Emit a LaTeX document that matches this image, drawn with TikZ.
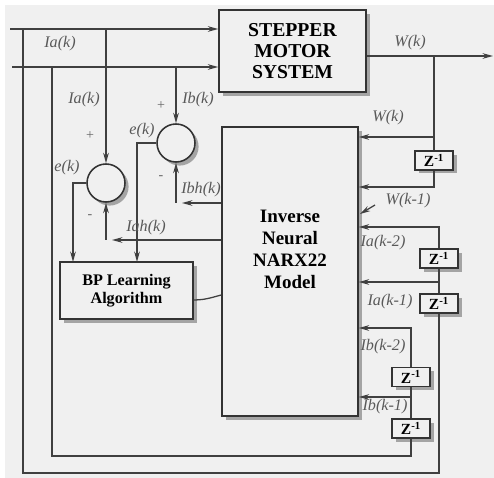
\documentclass[tikz,border=0pt]{standalone}
\usepackage{fontspec}
\setmainfont{Liberation Serif}
\usepackage{tikz}
\usetikzlibrary{arrows.meta, positioning, shadows}

\tikzset{
  wire/.style={draw=black!75, line width=0.9pt},
  arr/.style={wire, -{Stealth[length=2.6mm,width=1.4mm]}},
  boxshadow/.style={drop shadow={shadow xshift=0.9mm, shadow yshift=-0.9mm, fill=black!65}},
  block/.style={draw=black!80, line width=1.1pt, fill=black!6, align=center, inner sep=0pt, boxshadow},
  sumc/.style={circle, draw=black!80, line width=1.1pt, fill=black!6, minimum size=9.5mm, inner sep=0pt, boxshadow},
  zbox/.style={block, minimum width=9.5mm, minimum height=4.7mm, font=\bfseries\fontsize{11}{12}\selectfont},
  lab/.style={font=\itshape\fontsize{11.5}{12}\selectfont, text=black!65, inner sep=0pt},
  sig/.style={font=\fontsize{10}{10}\selectfont, text=black!60, inner sep=0pt}
}

\begin{document}
\begin{tikzpicture}[x=0.25mm, y=-0.25mm]
            \useasboundingbox (0,0) rectangle (494,478);
            \fill[black!6] (5,5) rectangle (494,478);
            % blocks
            \node[block, minimum width=36.75mm, minimum height=20.5mm, font=\bfseries\fontsize{14}{15}\selectfont](motor) at (292.5,51) {STEPPER\\MOTOR\\SYSTEM};
            \node[block, minimum width=34mm, minimum height=72.25mm](nn) at (290,271.5) {};
            \node[font=\bfseries\fontsize{13.5}{15.6}\selectfont, align=center](nntext) at (290,249) {Inverse\\Neural\\NARX22\\Model};
            \node[block, minimum width=33.25mm, minimum height=14.25mm, font=\bfseries\fontsize{11.5}{13}\selectfont](bp) at (126.5,290.5) {BP Learning\\Algorithm};
            \node[sumc](c1) at (106,183) {};
            \node[sumc](c2) at (176,143) {};
            \node[zbox](zw) at (434,160.5) {Z\textsuperscript{-1}};
            \node[zbox](za2) at (439,258.5) {Z\textsuperscript{-1}};
            \node[zbox](za1) at (439,303.5) {Z\textsuperscript{-1}};
            \node[zbox](zb2) at (411,377) {Z\textsuperscript{-1}};
            \node[zbox](zb1) at (411,428.5) {Z\textsuperscript{-1}};
            % points on the wires
            \coordinate (ina) at (10,29);
            \coordinate (inb) at (12,67);
            \coordinate (ja) at (23,29);
            \coordinate (jb) at (52,67);
            \coordinate (ba) at (23,473);
            \coordinate (bb) at (52,456);
            \coordinate (ta) at (106,29);
            \coordinate (tb) at (176,67);
            \coordinate (e1) at (73,262);
            \coordinate (e2) at (137,262);
            \coordinate (hb) at (200,203);
            \coordinate (ha) at (200,240);
            \coordinate (lr) at (200,295);
            \coordinate (wout) at (493,56);
            \coordinate (wj) at (434,56);
            \coordinate (w0) at (434,137);
            \coordinate (w1) at (434,187);
            \coordinate (a1) at (439,282);
            \coordinate (a2) at (439,227);
            \coordinate (b1) at (411,397);
            \coordinate (b2) at (411,328);
            \coordinate (sa) at (375,205);
            \coordinate (sb) at (360,214);
            % wires
            \draw[arr] (ina) -- (ina -| motor.west);
            \draw[arr] (inb) -- (inb -| motor.west);
            \draw[arr] (motor.east |- wout) -- (wout);
            \draw[wire] (wj) -- (zw);
            \draw[arr] (w0) -- (w0 -| nn.east);
            \draw[arr] (zw) |- (w1 -| nn.east);
            \draw[arr] (sa) -- (sb);
            \draw[arr] (ta) -- (c1);
            \draw[arr] (tb) -- (c2);
            \draw[arr] (c1) -| (e1);
            \draw[arr] (c2) -| (e2);
            \draw[arr] (nn.west |- hb) -- ([xshift=1.5mm]hb -| c2);
            \draw[arr] (hb -| c2) -- (c2);
            \draw[arr] (nn.west |- ha) -- ([xshift=1.5mm]ha -| c1);
            \draw[arr] (ha -| c1) -- (c1);
            \draw[wire] (bp.-8) to[out=0, in=195] (nn.west |- lr);
            \draw[wire] (ja) -- (ba) -| (za1);
            \draw[wire] (jb) -- (bb) -| (zb1);
            \draw[wire] (za1) -- (za2);
            \draw[arr] (a1) -- (a1 -| nn.east);
            \draw[arr] (za2) |- (a2 -| nn.east);
            \draw[wire] (zb1) -- (zb2);
            \draw[arr] (b1) -- (b1 -| nn.east);
            \draw[arr] (zb2) |- (b2 -| nn.east);
            % labels
            \node[lab](lia) at (60,44) {Ia(k)};
            \node[lab](lia2) at (84,100) {Ia(k)};
            \node[lab](lib) at (198,100) {Ib(k)};
            \node[sig](p1) at (90,136) {+};
            \node[sig](p2) at (161,106) {+};
            \node[sig](m1) at (90,217) {-};
            \node[sig](m2) at (161,178) {-};
            \node[lab](le2) at (142,131) {e(k)};
            \node[lab](le1) at (67,168) {e(k)};
            \node[lab](libh) at (201,190) {Ibh(k)};
            \node[lab](liah) at (146,228) {Iah(k)};
            \node[lab](lw) at (410,43) {W(k)};
            \node[lab](lw0) at (388,118) {W(k)};
            \node[lab](lw1) at (408,201) {W(k-1)};
            \node[lab](la2) at (383,243) {Ia(k-2)};
            \node[lab](la1) at (390,302) {Ia(k-1)};
            \node[lab](lb2) at (383,347) {Ib(k-2)};
            \node[lab](lb1) at (385,407) {Ib(k-1)};
        \end{tikzpicture}
\end{document}
